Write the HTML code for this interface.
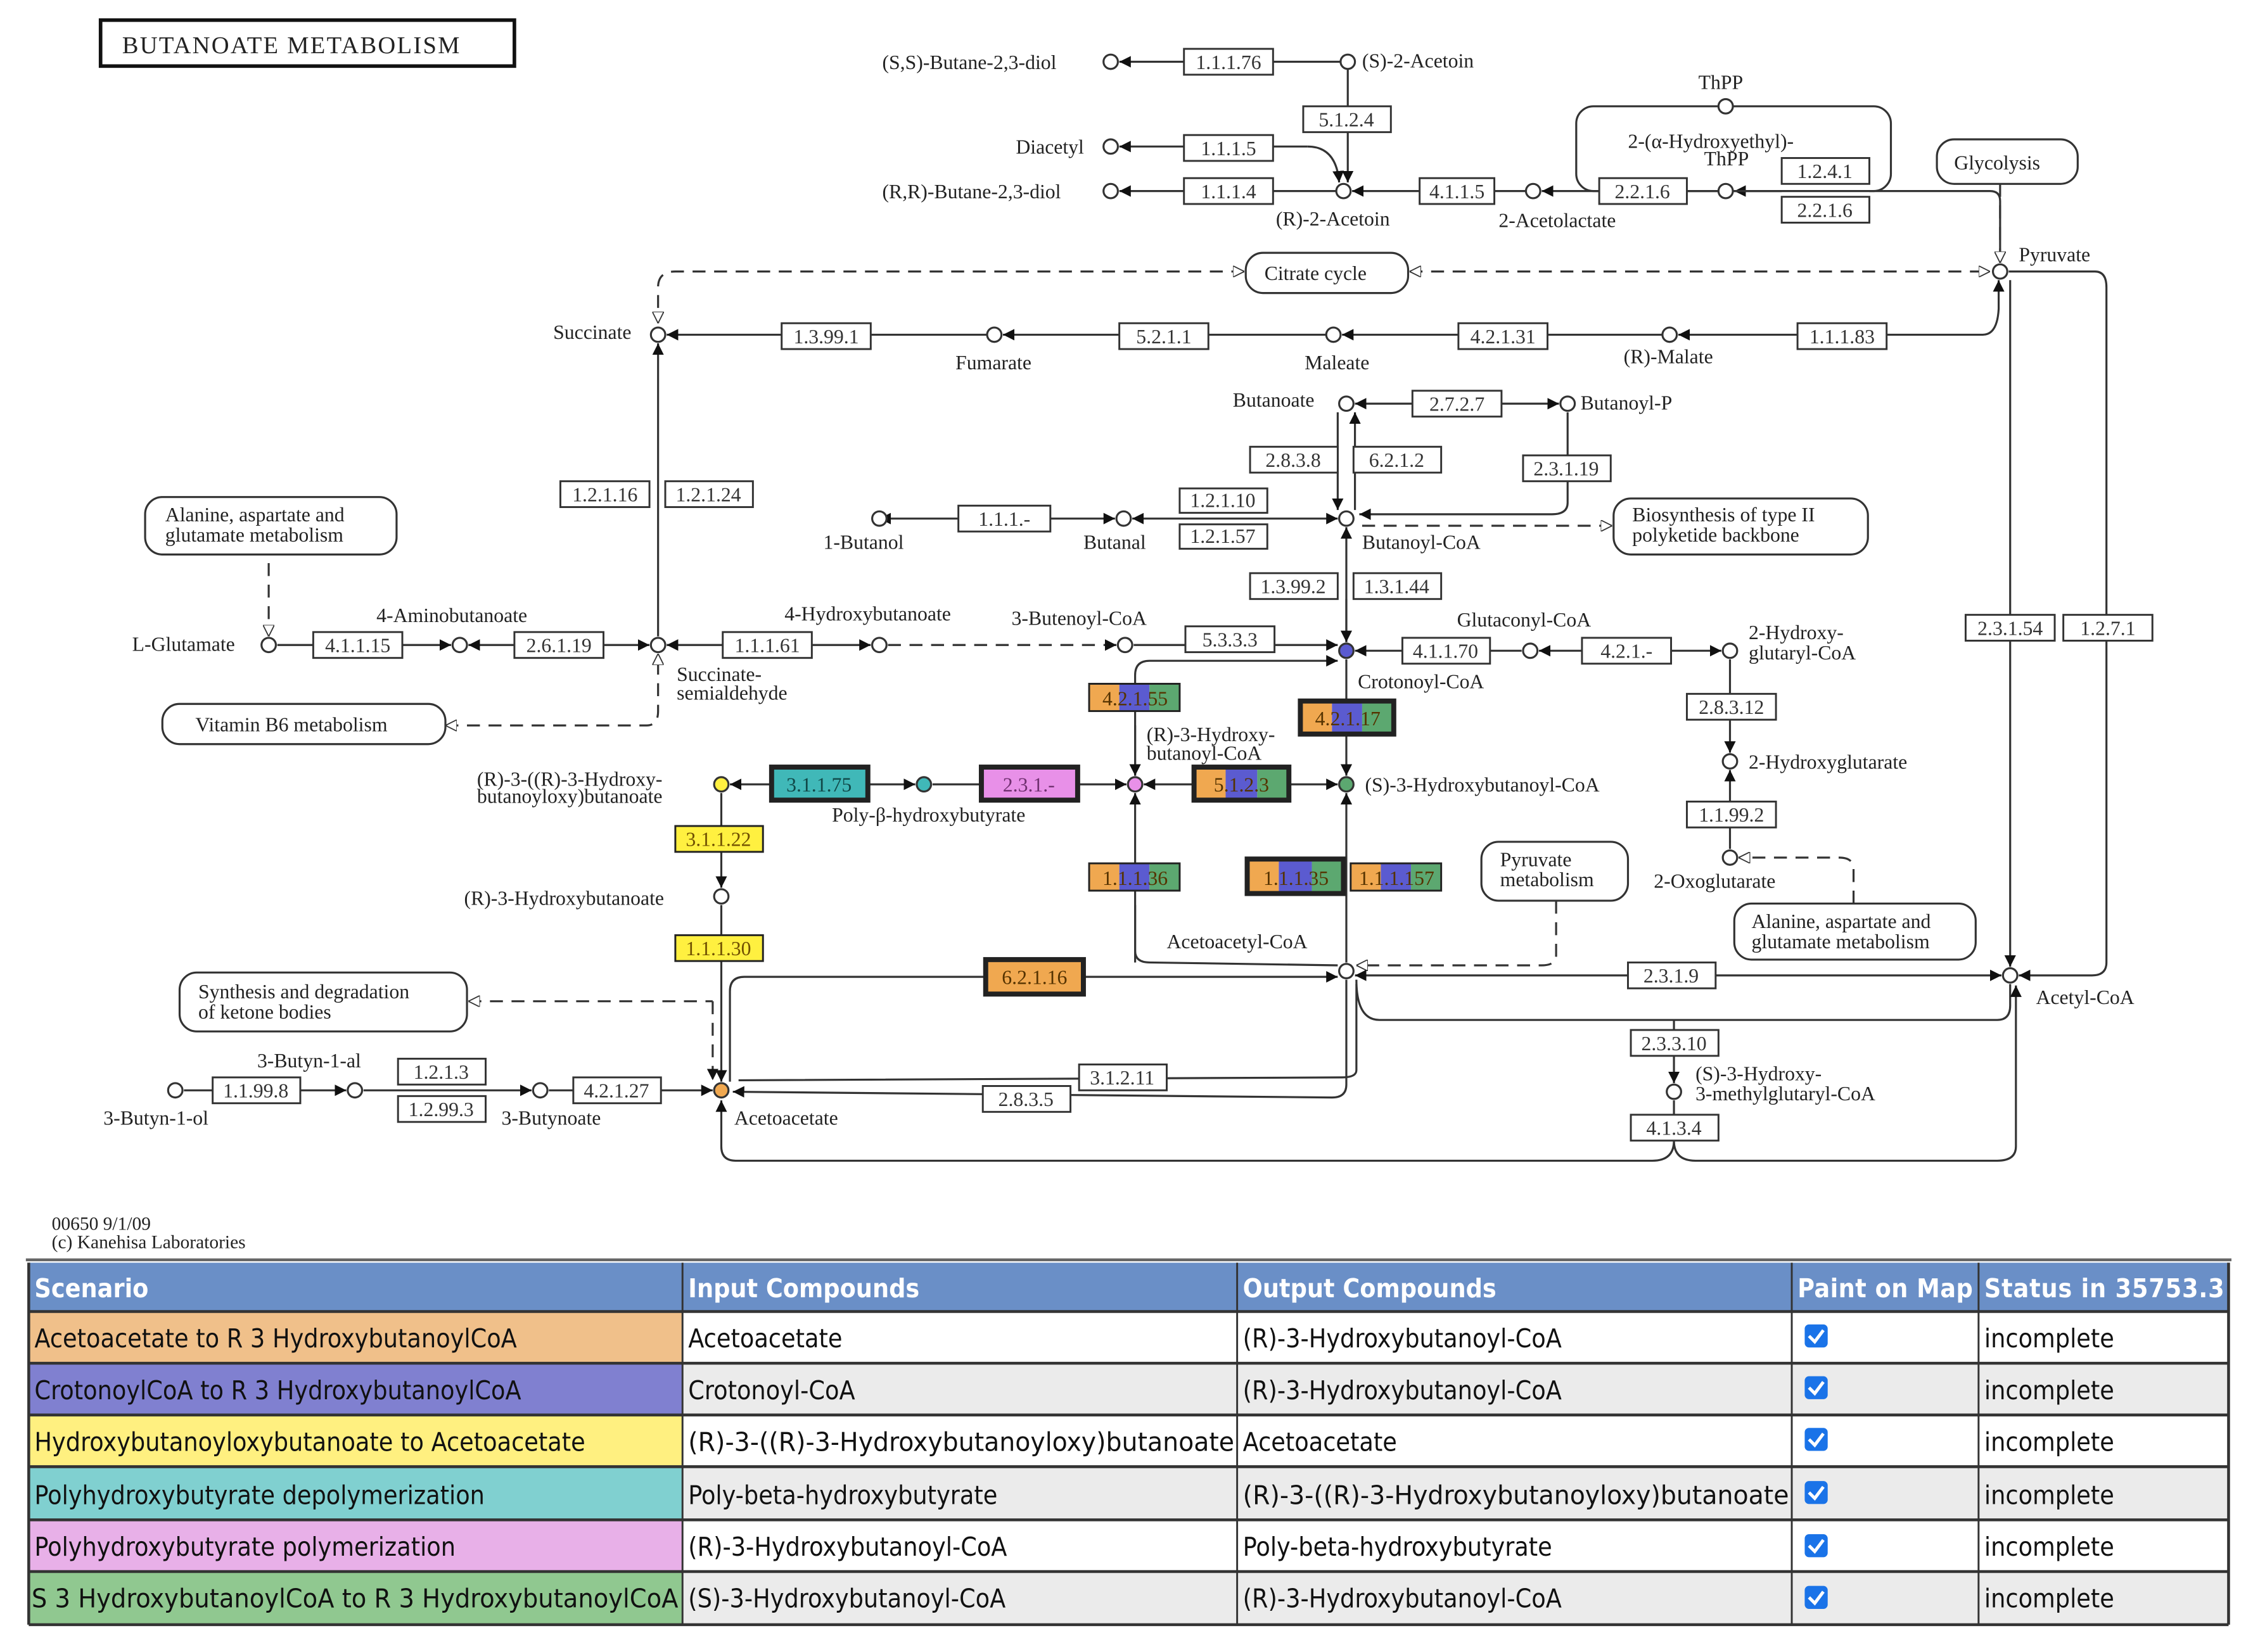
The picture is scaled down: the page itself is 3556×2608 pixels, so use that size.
<!DOCTYPE html>
<html><head><meta charset="utf-8"><style>
html,body{margin:0;padding:0;background:#fff}
svg{display:block}
.t{font-family:"Liberation Serif",serif;font-size:14px;fill:#222}
.e{font-family:"Liberation Serif",serif;font-size:14px;fill:#333}
.tb{font-family:"DejaVu Sans Condensed","Liberation Sans",sans-serif;font-size:18px;fill:#111}
.th{font-family:"DejaVu Sans Condensed","Liberation Sans",sans-serif;font-size:18px;fill:#fff;font-weight:bold}
</style></head><body>
<svg width="3556" height="2608" viewBox="0 0 1568 1150" preserveAspectRatio="none" xmlns="http://www.w3.org/2000/svg">
<defs>
<marker id="a" viewBox="0 0 10 10" refX="10" refY="5" markerWidth="8" markerHeight="8" orient="auto-start-reverse" markerUnits="userSpaceOnUse"><path d="M0,0L10,5L0,10z" fill="#111"/></marker>
<marker id="o" viewBox="0 0 10 10" refX="10" refY="5" markerWidth="8" markerHeight="8" orient="auto-start-reverse" markerUnits="userSpaceOnUse"><path d="M0,0L10,5L0,10z" fill="#fff" stroke="#333"/></marker>
</defs>
<rect width="1568" height="1150" fill="#fff"/>
<!-- title -->
<rect x="70" y="14" width="288" height="32" fill="#fff" stroke="#111" stroke-width="2.5"/>
<text x="85" y="37" class="t" style="font-size:17px;letter-spacing:1px">BUTANOATE METABOLISM</text>

<g stroke="#333" stroke-width="1.4" fill="none">
<!-- top -->
<line x1="824" y1="43" x2="779" y2="43" marker-end="url(#a)"/><line x1="886" y1="43" x2="933" y2="43"/>
<line x1="938" y1="48" x2="938" y2="74"/><line x1="938" y1="92" x2="938" y2="127" marker-end="url(#a)"/>
<line x1="824" y1="102" x2="779" y2="102" marker-end="url(#a)"/><line x1="886" y1="102" x2="910" y2="102"/><path d="M910,102 Q930,102 932,127" marker-end="url(#a)"/>
<line x1="824" y1="133" x2="779" y2="133" marker-end="url(#a)"/><line x1="886" y1="133" x2="930" y2="133"/>
<line x1="988" y1="133" x2="941" y2="133" marker-end="url(#a)"/><line x1="1040" y1="133" x2="1062" y2="133"/>
<line x1="1113" y1="133" x2="1073" y2="133" marker-end="url(#a)"/><line x1="1174" y1="133" x2="1196" y2="133"/>
<line x1="1240" y1="133" x2="1207" y2="133" marker-end="url(#a)"/>
<rect x="1097" y="74" width="219" height="59" rx="12"/>
<path d="M1392,183 L1392,140 Q1392,133 1385,133 L1301,133"/>
<path d="M1392,128 L1392,183" stroke-dasharray="9,6" marker-end="url(#o)"/>
<!-- citrate dashed -->
<path d="M866,189 L470,189 Q458,189 458,200 L458,225" stroke-dasharray="9,6" marker-start="url(#o)" marker-end="url(#o)"/>
<line x1="981" y1="189" x2="1385" y2="189" stroke-dasharray="9,6" marker-start="url(#o)" marker-end="url(#o)"/>
<!-- TCA -->
<line x1="544" y1="233" x2="464" y2="233" marker-end="url(#a)"/><line x1="606" y1="233" x2="687" y2="233"/>
<line x1="779" y1="233" x2="698" y2="233" marker-end="url(#a)"/><line x1="841" y1="233" x2="923" y2="233"/>
<line x1="1015" y1="233" x2="934" y2="233" marker-end="url(#a)"/><line x1="1077" y1="233" x2="1157" y2="233"/>
<line x1="1251" y1="233" x2="1168" y2="233" marker-end="url(#a)"/><path d="M1313,233 L1380,233 Q1390,233 1391,215 L1391,195" marker-end="url(#a)"/>
<!-- pyruvate right -->
<path d="M1398,189 L1458,189 Q1466,189 1466,200 L1466,670 Q1466,679 1456,679 L1405,679" marker-end="url(#a)"/>
<line x1="1399" y1="195" x2="1399" y2="673" marker-end="url(#a)"/>
<!-- succinate vertical -->
<line x1="458" y1="443" x2="458" y2="239" marker-end="url(#a)"/>
<!-- butanoate -->
<line x1="983" y1="281" x2="943" y2="281" marker-end="url(#a)"/><line x1="1045" y1="281" x2="1085" y2="281" marker-end="url(#a)"/>
<line x1="931" y1="287" x2="931" y2="355" marker-end="url(#a)"/><line x1="943" y1="355" x2="943" y2="287" marker-end="url(#a)"/>
<path d="M1091,287 L1091,350 Q1091,358 1080,358 L946,358" marker-end="url(#a)"/>
<line x1="612" y1="361" x2="667" y2="361" marker-start="url(#a)"/><line x1="731" y1="361" x2="776" y2="361" marker-end="url(#a)"/>
<line x1="788" y1="361" x2="931" y2="361" marker-end="url(#a)" marker-start="url(#a)"/>
<line x1="948" y1="366" x2="1122" y2="366" stroke-dasharray="9,6" marker-end="url(#o)"/>
<line x1="937" y1="447" x2="937" y2="367" marker-end="url(#a)"/>
<line x1="937" y1="417" x2="937" y2="447" marker-end="url(#a)"/>
<!-- glutamate row -->
<line x1="187" y1="392" x2="187" y2="443" stroke-dasharray="9,6" marker-end="url(#o)"/>
<line x1="193" y1="449" x2="218" y2="449"/><line x1="280" y1="449" x2="314" y2="449" marker-end="url(#a)"/>
<line x1="358" y1="449" x2="326" y2="449" marker-end="url(#a)"/><line x1="420" y1="449" x2="452" y2="449" marker-end="url(#a)"/>
<line x1="503" y1="449" x2="464" y2="449" marker-end="url(#a)"/><line x1="565" y1="449" x2="606" y2="449" marker-end="url(#a)"/>
<line x1="618" y1="449" x2="777" y2="449" stroke-dasharray="9,6" marker-end="url(#a)"/>
<line x1="789" y1="449" x2="931" y2="449" marker-end="url(#a)"/>
<path d="M310,505 L450,505 Q458,505 458,495 L458,455" stroke-dasharray="9,6" marker-start="url(#o)" marker-end="url(#o)"/>
<line x1="1101" y1="453" x2="1071" y2="453" marker-end="url(#a)"/><line x1="1163" y1="453" x2="1198" y2="453" marker-end="url(#a)"/>
<line x1="976" y1="453" x2="943" y2="453" marker-end="url(#a)"/><line x1="1037" y1="453" x2="1059" y2="453"/>
<line x1="1204" y1="459" x2="1204" y2="524" marker-end="url(#a)"/>
<line x1="1204" y1="591" x2="1204" y2="536" marker-end="url(#a)"/>
<path d="M1290,629 L1290,605 Q1290,597 1280,597 L1210,597" stroke-dasharray="9,6" marker-end="url(#o)"/>
<!-- center -->
<path d="M790,540 L790,470 Q790,460 800,460 L931,460" marker-end="url(#a)"/>
<line x1="790" y1="505" x2="790" y2="540" marker-end="url(#a)"/>
<line x1="937" y1="459" x2="937" y2="540" marker-end="url(#a)"/>
<line x1="831" y1="546" x2="796" y2="546" marker-end="url(#a)"/><line x1="897" y1="546" x2="931" y2="546" marker-end="url(#a)"/>
<line x1="750" y1="546" x2="784" y2="546" marker-end="url(#a)"/><line x1="649" y1="546" x2="683" y2="546"/>
<line x1="604" y1="546" x2="637" y2="546" marker-end="url(#a)"/><line x1="508" y1="546" x2="537" y2="546" marker-start="url(#a)"/>
<line x1="790" y1="670" x2="790" y2="552" marker-end="url(#a)"/><path d="M790,630 L790,662 Q790,670 800,670 L931,672" />
<line x1="937" y1="670" x2="937" y2="552" marker-end="url(#a)"/>
<line x1="502" y1="552" x2="502" y2="618" marker-end="url(#a)"/>
<line x1="502" y1="630" x2="502" y2="753" marker-end="url(#a)"/>
<path d="M1083,627 L1083,665 Q1083,672 1073,672 L944,672" stroke-dasharray="9,6" marker-end="url(#o)"/>
<path d="M508,753 L508,690 Q508,680 518,680 L931,680" marker-end="url(#a)"/>
<line x1="1133" y1="679" x2="943" y2="679" marker-end="url(#a)"/><line x1="1194" y1="679" x2="1393" y2="679" marker-end="url(#a)"/>
<path d="M944,682 Q944,710 960,710 L1390,710 Q1399,710 1399,700 L1399,685"/>
<line x1="1165" y1="710" x2="1165" y2="754" marker-end="url(#a)"/>
<line x1="1165" y1="766" x2="1165" y2="776"/>
<path d="M1165,794 Q1165,808 1150,808 L512,808 Q502,808 502,798 L502,766" marker-end="url(#a)"/>
<path d="M1165,794 Q1165,808 1180,808 L1390,808 Q1403,808 1403,798 L1403,686" marker-end="url(#a)"/>
<path d="M937,682 L937,755 Q937,764 927,764 L510,760" marker-end="url(#a)"/>
<path d="M944,685 L944,745 Q944,750 934,750 L514,752"/>
<line x1="326" y1="697" x2="496" y2="697" stroke-dasharray="9,6" marker-start="url(#o)"/>
<line x1="496" y1="697" x2="496" y2="752" stroke-dasharray="9,6" marker-end="url(#a)"/>
<!-- butyn row -->
<line x1="128" y1="759" x2="148" y2="759"/><line x1="209" y1="759" x2="241" y2="759" marker-end="url(#a)"/>
<line x1="253" y1="759" x2="370" y2="759" marker-end="url(#a)"/>
<line x1="382" y1="759" x2="399" y2="759"/><line x1="460" y1="759" x2="496" y2="759" marker-end="url(#a)"/>
<!-- rounded boxes -->
<rect x="1348" y="97" width="98" height="31" rx="12"/>
<rect x="867" y="176" width="113" height="28" rx="12"/>
<rect x="101" y="346" width="175" height="40" rx="12"/>
<rect x="1123" y="347" width="177" height="39" rx="12"/>
<rect x="113" y="490" width="197" height="28" rx="12"/>
<rect x="1207" y="629" width="168" height="39" rx="12"/>
<rect x="1031" y="586" width="102" height="41" rx="12"/>
<rect x="125" y="677" width="200" height="41" rx="12"/>
</g>
<g class="t" font-size="14">
<text x="1360" y="118">Glycolysis</text><text x="880" y="195">Citrate cycle</text>
<text x="115" y="363">Alanine, aspartate and</text><text x="115" y="377">glutamate metabolism</text>
<text x="1136" y="363">Biosynthesis of type II</text><text x="1136" y="377">polyketide backbone</text>
<text x="136" y="509">Vitamin B6 metabolism</text>
<text x="1219" y="646">Alanine, aspartate and</text><text x="1219" y="660">glutamate metabolism</text>
<text x="1044" y="603">Pyruvate</text><text x="1044" y="617">metabolism</text>
<text x="138" y="695">Synthesis and degradation</text><text x="138" y="709">of ketone bodies</text>
</g>
<!-- enzyme boxes -->
<g fill="#fff" stroke="#333" stroke-width="1.3">
<rect x="824" y="34" width="62" height="18"/><rect x="907" y="74" width="61" height="18"/>
<rect x="824" y="94" width="62" height="18"/><rect x="824" y="124" width="62" height="18"/>
<rect x="988" y="124" width="52" height="18"/><rect x="1113" y="124" width="61" height="18"/>
<rect x="1240" y="110" width="61" height="18"/><rect x="1240" y="137" width="61" height="18"/>
<rect x="544" y="225" width="62" height="18"/><rect x="779" y="225" width="62" height="18"/>
<rect x="1015" y="225" width="62" height="18"/><rect x="1251" y="225" width="62" height="18"/>
<rect x="983" y="272" width="62" height="18"/><rect x="870" y="311" width="61" height="18"/>
<rect x="942" y="311" width="61" height="18"/><rect x="1060" y="317" width="61" height="18"/>
<rect x="667" y="352" width="64" height="18"/><rect x="821" y="340" width="61" height="17"/>
<rect x="821" y="365" width="61" height="17"/><rect x="870" y="399" width="61" height="18"/>
<rect x="942" y="399" width="61" height="18"/><rect x="390" y="335" width="62" height="18"/>
<rect x="463" y="335" width="61" height="18"/><rect x="218" y="440" width="62" height="18"/>
<rect x="358" y="440" width="62" height="18"/><rect x="503" y="440" width="62" height="18"/>
<rect x="825" y="436" width="62" height="18"/><rect x="976" y="444" width="61" height="18"/>
<rect x="1101" y="444" width="62" height="18"/><rect x="1174" y="483" width="62" height="18"/>
<rect x="1174" y="558" width="62" height="18"/><rect x="1133" y="670" width="61" height="18"/>
<rect x="1368" y="428" width="62" height="18"/><rect x="1436" y="428" width="62" height="18"/>
<rect x="1135" y="717" width="61" height="18"/><rect x="1135" y="776" width="61" height="18"/>
<rect x="148" y="750" width="61" height="18"/><rect x="277" y="737" width="61" height="18"/>
<rect x="277" y="763" width="61" height="18"/><rect x="399" y="750" width="61" height="18"/>
<rect x="751" y="741" width="61" height="18"/><rect x="684" y="756" width="61" height="18"/>
</g>
<g class="e" text-anchor="middle">
<text x="855" y="48">1.1.1.76</text><text x="937" y="88">5.1.2.4</text><text x="855" y="108">1.1.1.5</text>
<text x="855" y="138">1.1.1.4</text><text x="1014" y="138">4.1.1.5</text><text x="1143" y="138">2.2.1.6</text>
<text x="1270" y="124">1.2.4.1</text><text x="1270" y="151">2.2.1.6</text>
<text x="575" y="239">1.3.99.1</text><text x="810" y="239">5.2.1.1</text><text x="1046" y="239">4.2.1.31</text><text x="1282" y="239">1.1.1.83</text>
<text x="1014" y="286">2.7.2.7</text><text x="900" y="325">2.8.3.8</text><text x="972" y="325">6.2.1.2</text><text x="1090" y="331">2.3.1.19</text>
<text x="699" y="366">1.1.1.-</text><text x="851" y="353">1.2.1.10</text><text x="851" y="378">1.2.1.57</text>
<text x="900" y="413">1.3.99.2</text><text x="972" y="413">1.3.1.44</text>
<text x="421" y="349">1.2.1.16</text><text x="493" y="349">1.2.1.24</text>
<text x="249" y="454">4.1.1.15</text><text x="389" y="454">2.6.1.19</text><text x="534" y="454">1.1.1.61</text>
<text x="856" y="450">5.3.3.3</text><text x="1006" y="458">4.1.1.70</text><text x="1132" y="458">4.2.1.-</text>
<text x="1205" y="497">2.8.3.12</text><text x="1205" y="572">1.1.99.2</text><text x="1163" y="684">2.3.1.9</text>
<text x="1399" y="442">2.3.1.54</text><text x="1467" y="442">1.2.7.1</text>
<text x="1165" y="731">2.3.3.10</text><text x="1165" y="790">4.1.3.4</text>
<text x="178" y="764">1.1.99.8</text><text x="307" y="751">1.2.1.3</text><text x="307" y="777">1.2.99.3</text>
<text x="429" y="764">4.2.1.27</text><text x="781" y="755">3.1.2.11</text><text x="714" y="770">2.8.3.5</text>
</g>
<!-- colored enzyme boxes -->
<g stroke="none">
<rect x="758" y="476" width="21" height="19" fill="#f0a850"/><rect x="779" y="476" width="21" height="19" fill="#5b5bd0"/><rect x="800" y="476" width="21" height="19" fill="#5ca870"/>
<rect x="905" y="488" width="22" height="23" fill="#f0a850"/><rect x="927" y="488" width="21" height="23" fill="#5b5bd0"/><rect x="948" y="488" width="22" height="23" fill="#5ca870"/>
<rect x="831" y="534" width="22" height="23" fill="#f0a850"/><rect x="853" y="534" width="22" height="23" fill="#5b5bd0"/><rect x="875" y="534" width="22" height="23" fill="#5ca870"/>
<rect x="758" y="601" width="21" height="19" fill="#f0a850"/><rect x="779" y="601" width="21" height="19" fill="#5b5bd0"/><rect x="800" y="601" width="21" height="19" fill="#5ca870"/>
<rect x="868" y="598" width="22" height="24" fill="#f0a850"/><rect x="890" y="598" width="23" height="24" fill="#5b5bd0"/><rect x="913" y="598" width="22" height="24" fill="#5ca870"/>
<rect x="940" y="601" width="21" height="19" fill="#f0a850"/><rect x="961" y="601" width="21" height="19" fill="#5b5bd0"/><rect x="982" y="601" width="21" height="19" fill="#5ca870"/>
<rect x="683" y="534" width="67" height="23" fill="#e890e8"/>
<rect x="537" y="534" width="67" height="23" fill="#40b8b8"/>
<rect x="470" y="575" width="61" height="18" fill="#fff040"/>
<rect x="470" y="651" width="61" height="18" fill="#fff040"/>
<rect x="686" y="668" width="68" height="24" fill="#f0a850"/>
</g>
<g fill="none" stroke="#222">
<rect x="758" y="476" width="63" height="19" stroke-width="1.3"/>
<rect x="905" y="488" width="65" height="23" stroke-width="3.5"/>
<rect x="831" y="534" width="66" height="23" stroke-width="3.5"/>
<rect x="758" y="601" width="63" height="19" stroke-width="1.3"/>
<rect x="868" y="598" width="67" height="24" stroke-width="3.5"/>
<rect x="940" y="601" width="63" height="19" stroke-width="1.3"/>
<rect x="683" y="534" width="67" height="23" stroke-width="3.5"/>
<rect x="537" y="534" width="67" height="23" stroke-width="3.5"/>
<rect x="470" y="575" width="61" height="18" stroke-width="1.3"/>
<rect x="470" y="651" width="61" height="18" stroke-width="1.3"/>
<rect x="686" y="668" width="68" height="24" stroke-width="3.5"/>
</g>
<g class="e" text-anchor="middle" style="fill:#553300">
<text x="790" y="491">4.2.1.55</text><text x="938" y="505">4.2.1.17</text><text x="864" y="551">5.1.2.3</text>
<text x="790" y="616">1.1.1.36</text><text x="902" y="616">1.1.1.35</text><text x="972" y="616">1.1.1.157</text>
<text x="716" y="551" style="fill:#703070">2.3.1.-</text><text x="570" y="551" style="fill:#104848">3.1.1.75</text>
<text x="500" y="589" style="fill:#705000">3.1.1.22</text><text x="500" y="665" style="fill:#705000">1.1.1.30</text>
<text x="720" y="685">6.2.1.16</text>
</g>
<!-- compound circles -->
<g stroke="#333" stroke-width="1.4" fill="#fff">
<circle cx="773" cy="43" r="5"/><circle cx="938" cy="43" r="5"/><circle cx="773" cy="102" r="5"/>
<circle cx="773" cy="133" r="5"/><circle cx="935" cy="133" r="5"/><circle cx="1067" cy="133" r="5"/>
<circle cx="1201" cy="133" r="5"/><circle cx="1201" cy="74" r="5"/><circle cx="1392" cy="189" r="5"/>
<circle cx="458" cy="233" r="5"/><circle cx="692" cy="233" r="5"/><circle cx="928" cy="233" r="5"/><circle cx="1162" cy="233" r="5"/>
<circle cx="937" cy="281" r="5"/><circle cx="1091" cy="281" r="5"/>
<circle cx="612" cy="361" r="5"/><circle cx="782" cy="361" r="5"/><circle cx="937" cy="361" r="5"/>
<circle cx="187" cy="449" r="5"/><circle cx="320" cy="449" r="5"/><circle cx="458" cy="449" r="5"/>
<circle cx="612" cy="449" r="5"/><circle cx="783" cy="449" r="5"/>
<circle cx="937" cy="453" r="5" fill="#5b5bd0"/><circle cx="1065" cy="453" r="5"/><circle cx="1204" cy="453" r="5"/>
<circle cx="1204" cy="530" r="5"/><circle cx="1204" cy="597" r="5"/>
<circle cx="790" cy="546" r="5" fill="#e890e8"/><circle cx="937" cy="546" r="5" fill="#5ca870"/>
<circle cx="643" cy="546" r="5" fill="#40b8b8"/><circle cx="502" cy="546" r="5" fill="#fff040"/>
<circle cx="502" cy="624" r="5"/><circle cx="502" cy="759" r="5" fill="#f0a850"/>
<circle cx="937" cy="676" r="5"/><circle cx="1399" cy="679" r="5"/><circle cx="1165" cy="760" r="5"/>
<circle cx="122" cy="759" r="5"/><circle cx="247" cy="759" r="5"/><circle cx="376" cy="759" r="5"/>
</g>
<!-- compound labels -->
<g class="t">
<text x="614" y="48">(S,S)-Butane-2,3-diol</text><text x="948" y="47">(S)-2-Acetoin</text>
<text x="707" y="107">Diacetyl</text><text x="614" y="138">(R,R)-Butane-2,3-diol</text>
<text x="888" y="157">(R)-2-Acetoin</text><text x="1043" y="158">2-Acetolactate</text>
<text x="1182" y="62">ThPP</text><text x="1133" y="103">2-(α-Hydroxyethyl)-</text><text x="1186" y="115">ThPP</text>
<text x="1405" y="182">Pyruvate</text>
<text x="385" y="236">Succinate</text><text x="665" y="257">Fumarate</text><text x="908" y="257">Maleate</text><text x="1130" y="253">(R)-Malate</text>
<text x="858" y="283">Butanoate</text><text x="1100" y="285">Butanoyl-P</text>
<text x="573" y="382">1-Butanol</text><text x="754" y="382">Butanal</text><text x="948" y="382">Butanoyl-CoA</text>
<text x="92" y="453">L-Glutamate</text><text x="262" y="433">4-Aminobutanoate</text>
<text x="471" y="474">Succinate-</text><text x="471" y="487">semialdehyde</text>
<text x="546" y="432">4-Hydroxybutanoate</text><text x="704" y="435">3-Butenoyl-CoA</text>
<text x="945" y="479">Crotonoyl-CoA</text><text x="1014" y="436">Glutaconyl-CoA</text>
<text x="1217" y="445">2-Hydroxy-</text><text x="1217" y="459">glutaryl-CoA</text>
<text x="1217" y="535">2-Hydroxyglutarate</text><text x="1151" y="618">2-Oxoglutarate</text>
<text x="798" y="516">(R)-3-Hydroxy-</text><text x="798" y="529">butanoyl-CoA</text>
<text x="950" y="551">(S)-3-Hydroxybutanoyl-CoA</text>
<text x="579" y="572">Poly-β-hydroxybutyrate</text>
<text x="332" y="547">(R)-3-((R)-3-Hydroxy-</text><text x="332" y="559">butanoyloxy)butanoate</text>
<text x="323" y="630">(R)-3-Hydroxybutanoate</text>
<text x="812" y="660">Acetoacetyl-CoA</text><text x="1417" y="699">Acetyl-CoA</text>
<text x="1180" y="752">(S)-3-Hydroxy-</text><text x="1180" y="766">3-methylglutaryl-CoA</text>
<text x="511" y="783">Acetoacetate</text>
<text x="72" y="783">3-Butyn-1-ol</text><text x="179" y="743">3-Butyn-1-al</text><text x="349" y="783">3-Butynoate</text>
<text x="36" y="856" style="font-size:13px">00650 9/1/09</text>
<text x="36" y="869" style="font-size:13px">(c) Kanehisa Laboratories</text>
</g>
<!-- table -->
<line x1="18" y1="877" x2="1553" y2="877" stroke="#666" stroke-width="2"/>
<rect x="20" y="879" width="1531" height="34" fill="#6a8fc7"/>
<g>
<rect x="20" y="913" width="455" height="36" fill="#f0c08a"/>
<rect x="20" y="949" width="455" height="36" fill="#8080d0"/>
<rect x="20" y="985" width="455" height="36" fill="#fff080"/>
<rect x="20" y="1021" width="455" height="37" fill="#80d0d0"/>
<rect x="20" y="1058" width="455" height="36" fill="#e8b0e8"/>
<rect x="20" y="1094" width="455" height="37" fill="#90c890"/>
<rect x="475" y="949" width="1076" height="36" fill="#ebebeb"/>
<rect x="475" y="1021" width="1076" height="37" fill="#ebebeb"/>
<rect x="475" y="1094" width="1076" height="37" fill="#ebebeb"/>
</g>
<g stroke="#333" stroke-width="2">
<line x1="20" y1="913" x2="1551" y2="913"/><line x1="20" y1="949" x2="1551" y2="949"/>
<line x1="20" y1="985" x2="1551" y2="985"/><line x1="20" y1="1021" x2="1551" y2="1021"/>
<line x1="20" y1="1058" x2="1551" y2="1058"/><line x1="20" y1="1094" x2="1551" y2="1094"/>
<line x1="20" y1="1131" x2="1551" y2="1131"/>
<line x1="20" y1="879" x2="20" y2="1131"/><line x1="1551" y1="879" x2="1551" y2="1131"/>
</g>
<g stroke="#333" stroke-width="1.3">
<line x1="475" y1="879" x2="475" y2="1131"/><line x1="861" y1="879" x2="861" y2="1131"/>
<line x1="1247" y1="879" x2="1247" y2="1131"/><line x1="1377" y1="879" x2="1377" y2="1131"/>
</g>
<g class="th">
<text x="24" y="903">Scenario</text><text x="479" y="903">Input Compounds</text><text x="865" y="903">Output Compounds</text>
<text x="1251" y="903" textLength="122">Paint on Map</text><text x="1381" y="903" textLength="167">Status in 35753.3</text>
</g>
<g class="tb">
<text x="24" y="938">Acetoacetate to R 3 HydroxybutanoylCoA</text>
<text x="24" y="974">CrotonoylCoA to R 3 HydroxybutanoylCoA</text>
<text x="24" y="1010">Hydroxybutanoyloxybutanoate to Acetoacetate</text>
<text x="24" y="1047">Polyhydroxybutyrate depolymerization</text>
<text x="24" y="1083">Polyhydroxybutyrate polymerization</text>
<text x="22" y="1119" textLength="450" lengthAdjust="spacingAndGlyphs">S 3 HydroxybutanoylCoA to R 3 HydroxybutanoylCoA</text>
<text x="479" y="938">Acetoacetate</text>
<text x="479" y="974">Crotonoyl-CoA</text>
<text x="479" y="1010" textLength="380" lengthAdjust="spacingAndGlyphs">(R)-3-((R)-3-Hydroxybutanoyloxy)butanoate</text>
<text x="479" y="1047">Poly-beta-hydroxybutyrate</text>
<text x="479" y="1083">(R)-3-Hydroxybutanoyl-CoA</text>
<text x="479" y="1119">(S)-3-Hydroxybutanoyl-CoA</text>
<text x="865" y="938">(R)-3-Hydroxybutanoyl-CoA</text>
<text x="865" y="974">(R)-3-Hydroxybutanoyl-CoA</text>
<text x="865" y="1010">Acetoacetate</text>
<text x="865" y="1047" textLength="380" lengthAdjust="spacingAndGlyphs">(R)-3-((R)-3-Hydroxybutanoyloxy)butanoate</text>
<text x="865" y="1083">Poly-beta-hydroxybutyrate</text>
<text x="865" y="1119">(R)-3-Hydroxybutanoyl-CoA</text>
<text x="1381" y="938">incomplete</text><text x="1381" y="974">incomplete</text><text x="1381" y="1010">incomplete</text>
<text x="1381" y="1047">incomplete</text><text x="1381" y="1083">incomplete</text><text x="1381" y="1119">incomplete</text>
</g>
<g>
<rect x="1256" y="922" width="16" height="16" rx="3" fill="#1a73e8"/>
<rect x="1256" y="958" width="16" height="16" rx="3" fill="#1a73e8"/>
<rect x="1256" y="994" width="16" height="16" rx="3" fill="#1a73e8"/>
<rect x="1256" y="1031" width="16" height="16" rx="3" fill="#1a73e8"/>
<rect x="1256" y="1068" width="16" height="16" rx="3" fill="#1a73e8"/>
<rect x="1256" y="1104" width="16" height="16" rx="3" fill="#1a73e8"/>
</g>
<g stroke="#fff" stroke-width="2.2" fill="none">
<path d="M1259,930l4,4l6,-8"/><path d="M1259,966l4,4l6,-8"/><path d="M1259,1002l4,4l6,-8"/>
<path d="M1259,1039l4,4l6,-8"/><path d="M1259,1076l4,4l6,-8"/><path d="M1259,1112l4,4l6,-8"/>
</g>
</svg>
</body></html>
